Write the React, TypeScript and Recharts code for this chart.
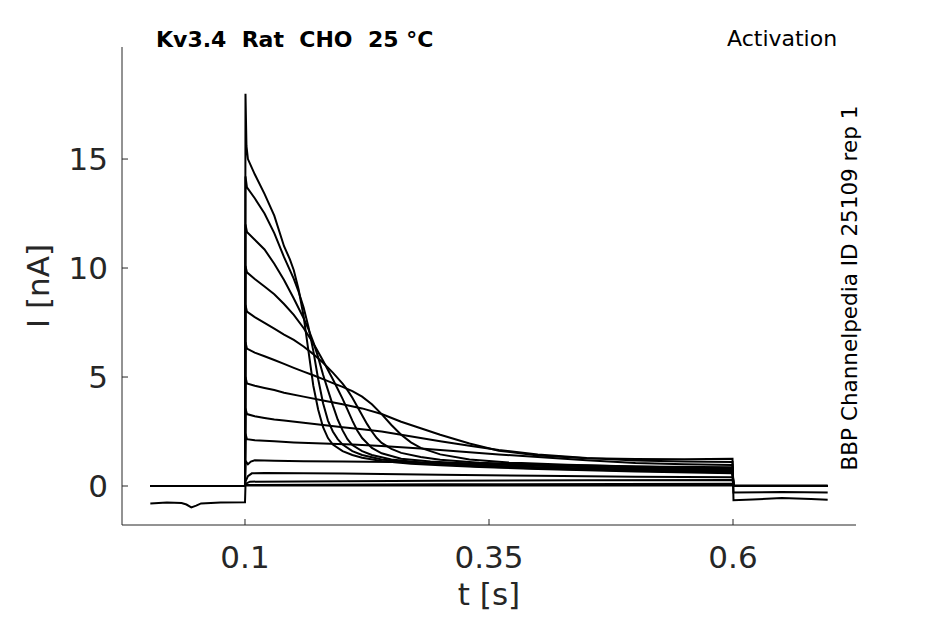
import React from 'react';
import { LineChart, Line, XAxis, YAxis } from 'recharts';

type Pt = [number, number];

// each sweep: [time (s), current (nA)]
const sweepA: Pt[] = [
  [0.003, 0], [0.1, 0], [0.1005, 18.0], [0.1015, 15.6], [0.103, 15.0], [0.11, 14.3], [0.12, 13.4],
  [0.13, 12.4], [0.14, 11.0], [0.146, 10.4], [0.15, 9.9], [0.155, 9.0], [0.16, 7.8], [0.165, 6.2],
  [0.17, 4.6], [0.175, 3.5], [0.18, 2.7], [0.185, 2.2], [0.19, 1.9], [0.2, 1.6], [0.21, 1.42],
  [0.22, 1.3], [0.24, 1.15], [0.27, 1.02], [0.3, 0.95], [0.34, 0.87], [0.4, 0.78], [0.5, 0.66],
  [0.5995, 0.58], [0.6005, 0.02], [0.697, 0.02],
];
const sweepB: Pt[] = [
  [0.003, 0], [0.1, 0], [0.1005, 14.2], [0.102, 13.7], [0.11, 13.2], [0.12, 12.5], [0.13, 11.6],
  [0.14, 10.5], [0.146, 9.9], [0.15, 9.5], [0.155, 8.9], [0.16, 8.2], [0.165, 7.3], [0.17, 6.2],
  [0.175, 4.9], [0.18, 3.8], [0.185, 3.0], [0.19, 2.5], [0.195, 2.15], [0.2, 1.9], [0.21, 1.6],
  [0.22, 1.42], [0.24, 1.22], [0.27, 1.08], [0.3, 1.0], [0.34, 0.9], [0.4, 0.8], [0.5, 0.7],
  [0.5995, 0.62], [0.6005, 0], [0.697, 0],
];
const sweepC: Pt[] = [
  [0.003, 0], [0.1, 0], [0.1005, 12.0], [0.102, 11.65], [0.11, 11.3], [0.12, 10.85], [0.13, 10.2],
  [0.14, 9.45], [0.15, 8.6], [0.16, 7.7], [0.165, 7.2], [0.17, 6.6], [0.175, 5.9], [0.18, 5.1],
  [0.185, 4.4], [0.19, 3.7], [0.195, 3.05], [0.2, 2.55], [0.205, 2.15], [0.21, 1.88], [0.22, 1.6],
  [0.23, 1.42], [0.25, 1.22], [0.28, 1.08], [0.32, 0.98], [0.36, 0.92], [0.42, 0.84], [0.5, 0.75],
  [0.5995, 0.66], [0.6005, 0], [0.697, 0],
];
const sweepD: Pt[] = [
  [0.003, 0], [0.1, 0], [0.1005, 10.1], [0.102, 9.8], [0.11, 9.5], [0.12, 9.15], [0.13, 8.8],
  [0.14, 8.35], [0.15, 7.85], [0.16, 7.25], [0.17, 6.55], [0.18, 5.75], [0.19, 4.9], [0.195, 4.45],
  [0.2, 4.0], [0.205, 3.5], [0.21, 3.0], [0.215, 2.55], [0.22, 2.2], [0.23, 1.75], [0.24, 1.5],
  [0.26, 1.25], [0.29, 1.12], [0.33, 1.02], [0.38, 0.95], [0.45, 0.86], [0.52, 0.78],
  [0.5995, 0.7], [0.6005, 0], [0.697, 0],
];
const sweepE: Pt[] = [
  [0.003, 0], [0.1, 0], [0.1005, 8.3], [0.102, 8.0], [0.11, 7.75], [0.12, 7.48], [0.13, 7.22],
  [0.14, 6.95], [0.15, 6.7], [0.16, 6.4], [0.17, 6.05], [0.18, 5.65], [0.19, 5.2], [0.2, 4.7],
  [0.205, 4.4], [0.21, 4.05], [0.215, 3.65], [0.22, 3.25], [0.225, 2.85], [0.23, 2.5], [0.235, 2.2],
  [0.24, 1.98], [0.25, 1.7], [0.26, 1.52], [0.28, 1.33], [0.3, 1.2], [0.34, 1.07], [0.4, 0.97],
  [0.47, 0.88], [0.54, 0.8], [0.5995, 0.75], [0.6005, 0], [0.697, 0],
];
const sweepF: Pt[] = [
  [0.003, 0], [0.1, 0], [0.1005, 6.6], [0.102, 6.3], [0.11, 6.12], [0.12, 5.95], [0.13, 5.78],
  [0.14, 5.6], [0.15, 5.42], [0.16, 5.25], [0.17, 5.08], [0.18, 4.9], [0.19, 4.72], [0.2, 4.55],
  [0.21, 4.35], [0.22, 4.1], [0.23, 3.75], [0.24, 3.3], [0.25, 2.8], [0.26, 2.35], [0.27, 2.0],
  [0.28, 1.75], [0.3, 1.45], [0.33, 1.22], [0.37, 1.08], [0.43, 0.98], [0.5, 0.9],
  [0.5995, 0.8], [0.6005, 0], [0.697, 0],
];
const sweepG: Pt[] = [
  [0.003, 0], [0.1, 0], [0.1005, 5.0], [0.102, 4.7], [0.11, 4.6], [0.12, 4.5], [0.13, 4.4],
  [0.14, 4.28], [0.16, 4.1], [0.18, 3.92], [0.2, 3.75], [0.22, 3.56], [0.24, 3.3], [0.26, 2.95],
  [0.28, 2.65], [0.3, 2.35], [0.33, 1.95], [0.36, 1.62], [0.4, 1.4], [0.45, 1.27], [0.5, 1.24],
  [0.55, 1.23], [0.5995, 1.25], [0.6005, -0.65], [0.62, -0.62], [0.65, -0.55], [0.68, -0.6], [0.697, -0.63],
];
const sweepH: Pt[] = [
  [0.003, 0], [0.1, 0], [0.1005, 3.55], [0.102, 3.3], [0.11, 3.2], [0.12, 3.12], [0.13, 3.05],
  [0.14, 3.0], [0.16, 2.9], [0.18, 2.8], [0.2, 2.7], [0.22, 2.6], [0.24, 2.5], [0.26, 2.35],
  [0.28, 2.2], [0.3, 2.05], [0.33, 1.85], [0.36, 1.65], [0.4, 1.45], [0.45, 1.28], [0.5, 1.17],
  [0.55, 1.12], [0.5995, 1.1], [0.6005, -0.3], [0.65, -0.27], [0.697, -0.3],
];
const sweepI: Pt[] = [
  [0.003, 0], [0.1, 0], [0.1005, 2.4], [0.102, 2.15], [0.11, 2.1], [0.13, 2.05], [0.15, 2.0],
  [0.18, 1.95], [0.21, 1.9], [0.24, 1.84], [0.28, 1.72], [0.32, 1.58], [0.36, 1.45], [0.4, 1.33],
  [0.45, 1.18], [0.5, 1.06], [0.55, 1.0], [0.5995, 0.96], [0.6005, 0], [0.697, 0],
];
const sweepJ: Pt[] = [
  [0.003, 0], [0.1, 0], [0.1005, 1.15], [0.103, 1.0], [0.106, 1.12], [0.11, 1.18], [0.13, 1.16],
  [0.16, 1.14], [0.2, 1.12], [0.25, 1.1], [0.3, 1.07], [0.35, 1.02], [0.4, 0.98], [0.45, 0.94],
  [0.5, 0.9], [0.5995, 0.86], [0.6005, 0], [0.697, 0],
];
const sweepK: Pt[] = [
  [0.003, 0], [0.1, 0], [0.1005, 0.2], [0.103, 0.45], [0.107, 0.58], [0.12, 0.6], [0.16, 0.58],
  [0.2, 0.57], [0.3, 0.52], [0.4, 0.47], [0.5, 0.43], [0.5995, 0.4], [0.6005, 0], [0.697, 0],
];
const sweepL: Pt[] = [
  [0.003, 0], [0.1, 0], [0.1005, 0.1], [0.105, 0.2], [0.2, 0.22], [0.3, 0.24], [0.45, 0.26],
  [0.5995, 0.28], [0.6005, 0], [0.697, 0],
];
const sweepM: Pt[] = [
  [0.003, 0], [0.1, 0], [0.1005, 0.05], [0.3, 0.08], [0.5995, 0.1], [0.6005, 0], [0.697, 0],
];
const sweepN: Pt[] = [
  [0.003, -0.8], [0.02, -0.76], [0.035, -0.78], [0.04, -0.85], [0.045, -0.98], [0.05, -0.9],
  [0.055, -0.8], [0.075, -0.76], [0.1, -0.75], [0.1005, 0.02], [0.5995, 0.02], [0.6005, 0], [0.697, 0],
];

const sweeps = [sweepA, sweepB, sweepC, sweepD, sweepE, sweepF, sweepG, sweepH, sweepI, sweepJ, sweepK, sweepL, sweepM, sweepN];

const xTicks = [0.1, 0.35, 0.6];
const yTicks = [0, 5, 10, 15];

const AXIS = '#262626';
const FONT = 'DejaVu Sans';

const App = () => {
  return (
    <div style={{ position: 'absolute', left: 0, top: 0, width: 945, height: 624, background: '#fff' }}>
      <LineChart width={945} height={624} margin={{ top: 47, right: 89, bottom: 59, left: 62 }}>
        <XAxis
          type="number"
          dataKey="t"
          domain={[-0.02602, 0.72602]}
          allowDataOverflow
          ticks={xTicks}
          interval={0}
          height={40}
          tickSize={-6}
          tickMargin={27}
          tickFormatter={(v) => String(v)}
          stroke={AXIS}
          tick={{ fill: AXIS, fontSize: 31, fontFamily: FONT }}
        />
        <YAxis
          type="number"
          domain={[-1.789, 20.14]}
          allowDataOverflow
          ticks={yTicks}
          interval={0}
          width={60}
          tickSize={-6}
          tickMargin={20}
          stroke={AXIS}
          tick={{ fill: AXIS, fontSize: 31, fontFamily: FONT }}
        />
        {sweeps.map((s, k) => (
          <Line
            key={k}
            data={s.map(([t, i]) => ({ t, i }))}
            dataKey="i"
            type="linear"
            stroke="#000"
            strokeWidth={2}
            dot={false}
            activeDot={false}
            isAnimationActive={false}
          />
        ))}
      </LineChart>
      <svg width={945} height={624} style={{ position: 'absolute', left: 0, top: 0, pointerEvents: 'none' }}>
        <text x={156} y={47} fontFamily={FONT} fontWeight="bold" fontSize={22} fill="#000" style={{ whiteSpace: 'pre' }}>
          {'Kv3.4  Rat  CHO  25 °C'}
        </text>
        <text x={727} y={46} fontFamily={FONT} fontSize={22} fill="#000">Activation</text>
        <text x={857} y={288} fontFamily={FONT} fontSize={21.5} fill="#000" textAnchor="middle" transform="rotate(-90 857 288)">
          BBP Channelpedia ID 25109 rep 1
        </text>
        <text x={489} y={605} fontFamily={FONT} fontSize={31} fill={AXIS} textAnchor="middle">t [s]</text>
        <text x={49} y={286} fontFamily={FONT} fontSize={31} fill={AXIS} textAnchor="middle" transform="rotate(-90 49 286)">
          I [nA]
        </text>
      </svg>
    </div>
  );
};

export default App;
